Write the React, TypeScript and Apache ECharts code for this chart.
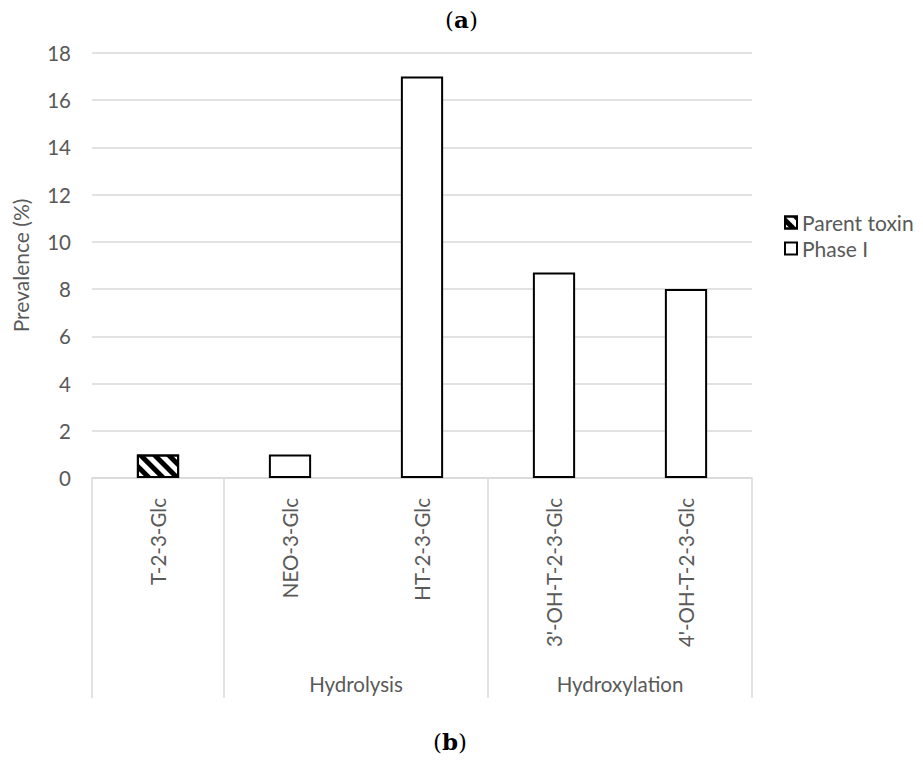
import React, { useEffect, useRef } from "react";
import * as echarts from "echarts";

const categories = ["T-2-3-Glc", "NEO-3-Glc", "HT-2-3-Glc", "3'-OH-T-2-3-Glc", "4'-OH-T-2-3-Glc"];
const groups = ["", "Hydrolysis", "Hydrolysis", "Hydroxylation", "Hydroxylation"];
const parentToxin = [1, null, null, null, null];
const phaseI = [null, 1, 17, 8.7, 8.0];
const seriesNames = ["Parent toxin", "Phase I"];
const yTicks = { min: 0, max: 18, interval: 2 };

const FONT = "Lato";
const GRAY = "#595959";
const LINE = "#d9d9d9";

// group label positions (centre of each group in category units)
const groupCentres: { value: number; name: string }[] = [];
{
  let start = 0;
  for (let i = 1; i <= groups.length; i++) {
    if (i === groups.length || groups[i] !== groups[start]) {
      if (groups[start]) groupCentres.push({ value: (start + i) / 2, name: groups[start] });
      start = i;
    }
  }
}

export default function App() {
  const ref = useRef<HTMLDivElement>(null);
  useEffect(() => {
    if (!ref.current) return;
    const chart = echarts.init(ref.current, null, { renderer: "svg" });
    const barStyle = { color: "#ffffff", borderColor: "#000000", borderWidth: 2 };
    const panelLabel = (letter: string) => ({
      text: `({a|${letter}})`,
      font: "23px 'DejaVu Serif'",
      fill: "#000",
      rich: { a: { fontWeight: "bold", fontFamily: "DejaVu Serif", fontSize: 23 } },
    });
    chart.setOption({
      animation: false,
      backgroundColor: "#ffffff",
      textStyle: { fontFamily: FONT },
      grid: { left: 92, right: 171, top: 53, bottom: 282, containLabel: false },
      graphic: [
        { type: "text", left: 445, top: 8, style: panelLabel("a") },
        { type: "text", left: 433, top: 730, style: panelLabel("b") },
      ],
      legend: {
        orient: "vertical",
        left: 779,
        top: 207,
        itemWidth: 12,
        itemHeight: 12,
        itemGap: 5,
        icon: "rect",
        textStyle: { color: GRAY, fontSize: 21, fontFamily: FONT },
        data: seriesNames,
      },
      xAxis: [
        {
          type: "category",
          data: categories,
          axisLine: { lineStyle: { color: LINE, width: 1.5 } },
          axisTick: {
            show: true,
            length: 220,
            lineStyle: { color: LINE, width: 1.5 },
            interval: (i: number) => i === 0 || groups[i] !== groups[i - 1],
          },
          axisLabel: {
            interval: 0,
            rotate: 90,
            color: GRAY,
            fontSize: 20.5,
            fontFamily: FONT,
            margin: 20,
          },
        },
        {
          type: "value",
          min: 0,
          max: categories.length,
          position: "bottom",
          offset: 187,
          axisLine: { show: false },
          axisTick: { show: false },
          splitLine: { show: false },
          axisLabel: {
            customValues: groupCentres.map((g) => g.value),
            formatter: (v: number) => {
              const g = groupCentres.find((c) => Math.abs(c.value - v) < 1e-6);
              return g ? g.name : "";
            },
            color: GRAY,
            fontSize: 20.5,
            fontFamily: FONT,
          },
        },
      ],
      yAxis: {
        type: "value",
        min: yTicks.min,
        max: yTicks.max,
        interval: yTicks.interval,
        name: "Prevalence (%)",
        nameLocation: "middle",
        nameGap: 61,
        nameTextStyle: { color: GRAY, fontSize: 21, fontFamily: FONT },
        axisLine: { show: false },
        axisTick: { show: false },
        axisLabel: { color: GRAY, fontSize: 20.5, fontFamily: FONT, margin: 21 },
        splitLine: { lineStyle: { color: LINE, width: 1.5 } },
      },
      series: [
        {
          name: seriesNames[0],
          type: "bar",
          stack: "all",
          barWidth: "32%",
          data: parentToxin,
          itemStyle: {
            ...barStyle,
            decal: {
              symbol: "rect",
              symbolSize: 1,
              color: "#000000",
              dashArrayX: [1, 0],
              dashArrayY: [5, 5],
              rotation: Math.PI / 4,
            },
          },
        },
        {
          name: seriesNames[1],
          type: "bar",
          stack: "all",
          barWidth: "32%",
          data: phaseI,
          itemStyle: barStyle,
        },
      ],
    });
    return () => chart.dispose();
  }, []);
  return <div ref={ref} style={{ width: 923, height: 760, position: "absolute", left: 0, top: 0 }} />;
}
